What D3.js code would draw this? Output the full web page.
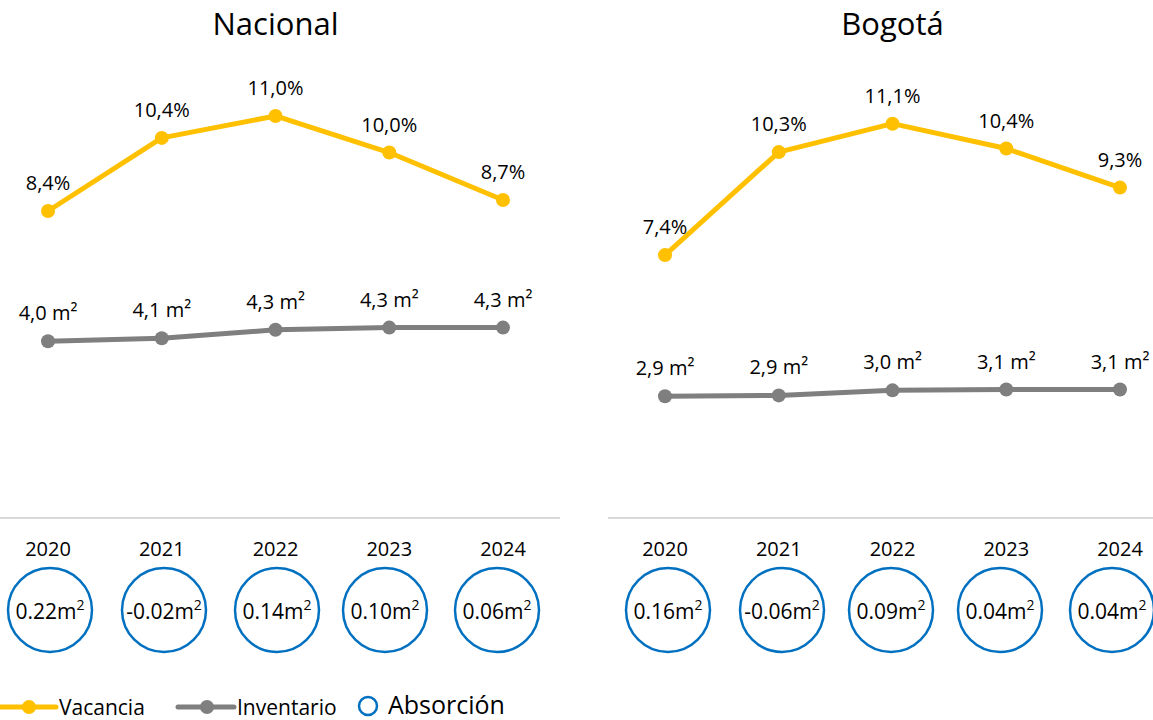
<!DOCTYPE html>
<html>
<head>
<meta charset="utf-8">
<script src="https://cdn.jsdelivr.net/npm/d3@7"></script>
<style>
  body { margin: 0; background: #fff; }
  svg { display: block; font-family: "Open Sans", sans-serif; }
</style>
</head>
<body>
<svg id="chart" width="1153" height="720"></svg>
<script>
const years = ["2020", "2021", "2022", "2023", "2024"];

const nacionalVacancia = [8.4, 10.4, 11.0, 10.0, 8.7];
const nacionalInventario = [4.0, 4.07, 4.26, 4.31, 4.31];
const nacionalAbsorcion = [0.22, -0.02, 0.14, 0.10, 0.06];

const bogotaVacancia = [7.4, 10.3, 11.1, 10.4, 9.3];
const bogotaInventario = [2.9, 2.92, 3.04, 3.06, 3.06];
const bogotaAbsorcion = [0.16, -0.06, 0.09, 0.04, 0.04];

const YELLOW = "#FFC000", GREY = "#7F7F7F", BLUE = "#0070C0";

const svg = d3.select("#chart");
const baseline = 518;

const panels = [
  { title: "Nacional", vac: nacionalVacancia, inv: nacionalInventario, abs: nacionalAbsorcion,
    x0: 48, x1: 503, vacMax: 13.9, invMax: 11.5, ruleX: [0, 560],
    circleX: [50, 164, 277, 385, 497] },
  { title: "Bogotá", vac: bogotaVacancia, inv: bogotaInventario, abs: bogotaAbsorcion,
    x0: 665, x1: 1120, vacMax: 14.3, invMax: 12.1, ruleX: [608, 1153],
    circleX: [668, 782, 891, 1000, 1112] }
];

const fmt1 = d3.format(".1f");
const fmt2 = d3.format(".2f");
const comma = v => fmt1(v).replace(".", ",");

panels.forEach(p => {
  const g = svg.append("g");
  const x = d3.scalePoint().domain(years).range([p.x0, p.x1]);
  const yVac = d3.scaleLinear().domain([0, p.vacMax]).range([baseline, 10]);
  const yInv = d3.scaleLinear().domain([0, p.invMax]).range([baseline, 10]);

  g.append("text")
    .attr("x", (p.x0 + p.x1) / 2).attr("y", 35)
    .attr("text-anchor", "middle")
    .attr("font-size", 31).attr("fill", "#000")
    .text(p.title);

  // baseline rule
  g.append("line")
    .attr("x1", p.ruleX[0]).attr("x2", p.ruleX[1])
    .attr("y1", baseline).attr("y2", baseline)
    .attr("stroke", "#d9d9d9").attr("stroke-width", 2);

  const series = [
    { vals: p.vac, y: yVac, color: YELLOW, label: v => comma(v) + "%" },
    { vals: p.inv, y: yInv, color: GREY, label: v => comma(v) + " m²" }
  ];

  series.forEach(s => {
    const line = d3.line().x((d, i) => x(years[i])).y(d => s.y(d));
    g.append("path")
      .datum(s.vals)
      .attr("d", line)
      .attr("fill", "none")
      .attr("stroke", s.color)
      .attr("stroke-width", 5)
      .attr("stroke-linejoin", "round");
    g.selectAll(null).data(s.vals).enter().append("circle")
      .attr("cx", (d, i) => x(years[i]))
      .attr("cy", d => s.y(d))
      .attr("r", 7)
      .attr("fill", s.color);
    g.selectAll(null).data(s.vals).enter().append("text")
      .attr("x", (d, i) => x(years[i]))
      .attr("y", d => s.y(d) - 21)
      .attr("text-anchor", "middle")
      .attr("font-size", 20)
      .attr("fill", "#000")
      .text(d => s.label(d));
  });

  // year labels
  g.selectAll(null).data(years).enter().append("text")
    .attr("x", d => x(d)).attr("y", 556)
    .attr("text-anchor", "middle")
    .attr("font-size", 20).attr("fill", "#000")
    .text(d => d);

  // absorcion bubbles
  const bub = g.selectAll(null).data(p.abs).enter().append("g")
    .attr("transform", (d, i) => `translate(${p.circleX[i]},610)`);
  bub.append("circle")
    .attr("r", 42)
    .attr("fill", "#fff")
    .attr("stroke", BLUE)
    .attr("stroke-width", 2.5);
  const t = bub.append("text")
    .attr("y", 9)
    .attr("text-anchor", "middle")
    .attr("font-size", 21).attr("fill", "#000");
  t.append("tspan").text(d => fmt2(d).replace("−", "-") + "m");
  t.append("tspan").attr("font-size", 14).attr("dy", -9).text("2");
});

// legend
const lg = svg.append("g").attr("transform", "translate(0,707)");
[{ x: 0, color: YELLOW, label: "Vacancia" }, { x: 178, color: GREY, label: "Inventario" }].forEach(l => {
  lg.append("line").attr("x1", l.x).attr("x2", l.x + 56).attr("y1", 0).attr("y2", 0)
    .attr("stroke", l.color).attr("stroke-width", 5).attr("stroke-linecap", "round");
  lg.append("circle").attr("cx", l.x + 29).attr("r", 7).attr("fill", l.color);
  lg.append("text").attr("x", l.x + 59).attr("y", 8).attr("font-size", 21).attr("fill", "#000").text(l.label);
});
lg.append("circle").attr("cx", 368).attr("cy", -1).attr("r", 9)
  .attr("fill", "none").attr("stroke", BLUE).attr("stroke-width", 2.5);
lg.append("text").attr("x", 388).attr("y", 7).attr("font-size", 25).attr("fill", "#000").text("Absorción");
</script>
</body>
</html>
